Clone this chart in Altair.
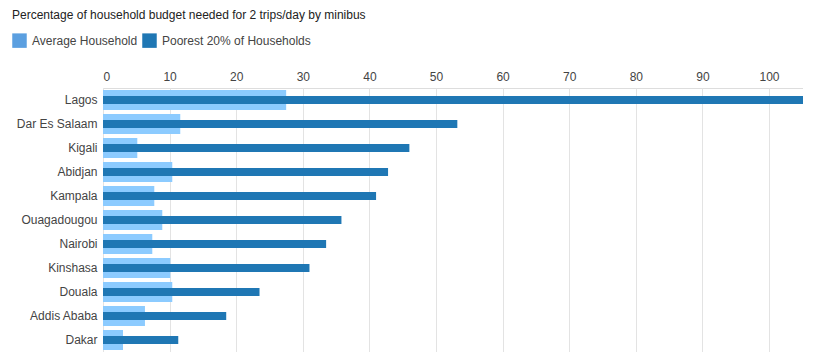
import altair as alt
import pandas as pd

cities = ["Lagos", "Dar Es Salaam", "Kigali", "Abidjan", "Kampala", "Ouagadougou",
          "Nairobi", "Kinshasa", "Douala", "Addis Ababa", "Dakar"]
average_household = [27.5, 11.6, 5.15, 10.4, 7.7, 8.9, 7.4, 10.1, 10.4, 6.3, 3.0]
poorest_20 = [105.1, 53.2, 46.0, 42.8, 41.0, 35.8, 33.5, 31.0, 23.5, 18.5, 11.3]
series_names = ["Average Household", "Poorest 20% of Households"]
legend_colors = ["#5b9fe0", "#1f77b4"]
bar_colors = ["#8ccbff", "#1f77b4"]
tick_values = [0, 10, 20, 30, 40, 50, 60, 70, 80, 90, 100]
title_text = "Percentage of household budget needed for 2 trips/day by minibus"

df = pd.DataFrame({
    "city": cities * 2,
    "value": average_household + poorest_20,
    "series": [series_names[0]] * len(cities) + [series_names[1]] * len(cities),
})

FONT = "Arial"

x_enc = alt.X("value:Q", scale=alt.Scale(nice=False, zero=True),
              axis=alt.Axis(orient="top", values=tick_values, domain=False, ticks=False,
                            labelFont=FONT, labelFontSize=12, labelColor="#444444",
                            labelPadding=5, gridColor="#e3e3e3", gridWidth=1, title=None))
y_enc = alt.Y("city:N", sort=cities,
              scale=alt.Scale(paddingInner=0, paddingOuter=0),
              axis=alt.Axis(domain=False, ticks=False, grid=False, labelFont=FONT,
                            labelFontSize=12, labelColor="#444444", labelPadding=6, title=None))

base = alt.Chart(df)

light = base.transform_filter(alt.datum.series == series_names[0]).mark_bar(
    size=20, color=bar_colors[0]).encode(x=x_enc, y=y_enc)
dark = base.transform_filter(alt.datum.series == series_names[1]).mark_bar(
    size=8, color=bar_colors[1]).encode(x=x_enc, y=y_enc)

legend_layer = base.transform_filter("false").mark_square(opacity=1, filled=True).encode(
    x=alt.X("value:Q"),
    y=alt.Y("city:N", sort=cities),
    color=alt.Color("series:N",
                    scale=alt.Scale(domain=series_names, range=legend_colors),
                    legend=alt.Legend(orient="none", legendX=-91, legendY=-55,
                                      direction="horizontal", title=None,
                                      symbolType="square", symbolSize=210,
                                      symbolStrokeWidth=0, symbolOpacity=1,
                                      labelFont=FONT,
                                      labelFontSize=12, labelColor="#444444",
                                      labelOffset=5, columnPadding=4)),
)

chart = alt.layer(light, dark, legend_layer).properties(
    width=700, height=264,
    title=alt.TitleParams(title_text, anchor="start", frame="group", dx=-91, dy=-7,
                          font=FONT, fontSize=12, fontWeight="normal", color="#222222"),
    autosize=alt.AutoSizeParams(type="none"),
    padding={"left": 103, "top": 88, "right": 0, "bottom": 0},
).configure_view(stroke=None).configure(background="white")

chart.save("out.html", embed_options={"renderer": "svg", "actions": False})
